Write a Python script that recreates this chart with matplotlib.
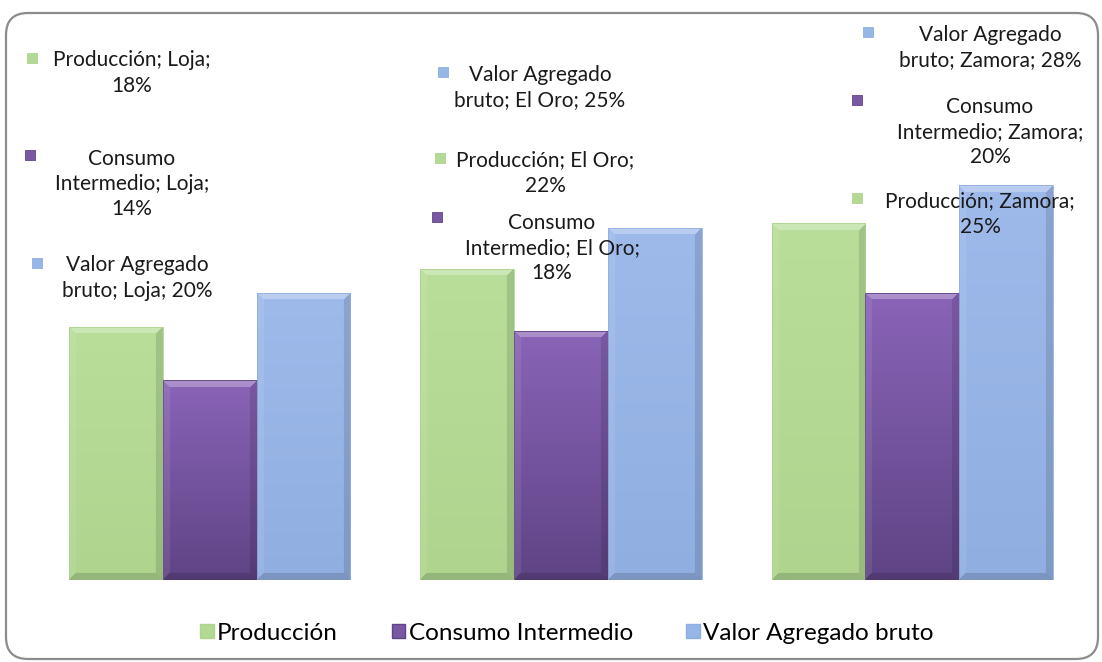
import numpy as np
import matplotlib
matplotlib.use("Agg")
import matplotlib.pyplot as plt
from matplotlib.patches import Rectangle, FancyBboxPatch, Patch
from matplotlib.transforms import IdentityTransform

# data
regions = ["Loja", "El Oro", "Zamora"]
series = ["Producción", "Consumo Intermedio", "Valor Agregado bruto"]
produccion = [17.9, 22.0, 25.2]
consumo = [14.1, 17.6, 20.3]
valor_agregado = [20.3, 24.9, 27.9]
values = [produccion, consumo, valor_agregado]

# label texts (Excel style "series; category; value")
label_texts = {
    (0, 0): "Producción; Loja;\n18%",
    (1, 0): "Consumo\nIntermedio; Loja;\n14%",
    (2, 0): "Valor Agregado\nbruto; Loja; 20%",
    (0, 1): "Producción; El Oro;\n22%",
    (1, 1): "Consumo\nIntermedio; El Oro;\n18%",
    (2, 1): "Valor Agregado\nbruto; El Oro; 25%",
    (0, 2): "Producción; Zamora;\n25%",
    (1, 2): "Consumo\nIntermedio; Zamora;\n20%",
    (2, 2): "Valor Agregado\nbruto; Zamora; 28%",
}
# label layout in pixels from top-left: (text center x, first line y, marker x, marker y)
label_pos = {
    (0, 0): (132, 59, 32, 58),
    (1, 0): (132, 156, 30, 155),
    (2, 0): (137, 264, 37, 263),
    (0, 1): (545, 159, 440, 158),
    (1, 1): (552, 220, 437, 217),
    (2, 1): (540, 74, 443, 72),
    (0, 2): (980, 200, 857, 198),
    (1, 2): (990, 104, 857, 100),
    (2, 2): (990, 34, 868, 32),
}
line_h = 28

top_cols = ["#B8DE9A", "#8A64B8", "#9EBAEB"]
bot_cols = ["#AED48E", "#5F4485", "#90AEE0"]
mid_cols = ["#B3D994", "#7858A2", "#97B6E8"]

W, H = 1102, 662
plt.rcParams['font.family'] = ['Lato', 'DejaVu Sans']

fig = plt.figure(figsize=(W / 100, H / 100), dpi=100)
ax = fig.add_axes([34 / W, 1 - 580 / H, (1088 - 34) / W, (580 - 155.5) / H])
ax.set_xlim(-0.5, 2.5)
ax.set_ylim(0, 30)
ax.axis("off")

# outer rounded frame
frame = FancyBboxPatch((6, 3), W - 10, H - 16, boxstyle="round,pad=0,rounding_size=22",
                       transform=IdentityTransform(), facecolor="none",
                       edgecolor="#8C8C8C", linewidth=1.6)
fig.add_artist(frame)


def to_rgb(c):
    return np.array(matplotlib.colors.to_rgb(c))


def shade_bar(ax, rect, ctop, cbot, px_per_unit_x, px_per_unit_y):
    x, y = rect.get_xy()
    w, h = rect.get_width(), rect.get_height()
    cols = max(int(w * px_per_unit_x), 2)
    rows = max(int(h * px_per_unit_y), 2)
    t = np.linspace(0, 1, rows)[:, None, None]
    img = (1 - t) * to_rgb(ctop) + t * to_rgb(cbot)
    img = np.repeat(img, cols, axis=1)
    bev = 7
    yy, xx = np.mgrid[0:rows, 0:cols]
    dt, db, dl, dr = yy, rows - 1 - yy, xx, cols - 1 - xx
    dmin = np.minimum(np.minimum(dt, db), np.minimum(dl, dr))
    inside = dmin < bev
    top = inside & (dt == dmin)
    bot = inside & (db == dmin) & ~top
    left = inside & (dl == dmin) & ~top & ~bot
    right = inside & (dr == dmin) & ~top & ~bot & ~left
    img[top] = img[top] + (1 - img[top]) * 0.28
    img[left] = img[left] + (1 - img[left]) * 0.08
    img[right] = img[right] * 0.88
    img[bot] = img[bot] * 0.86
    im = ax.imshow(img, extent=(x, x + w, y, y + h), aspect="auto",
                   origin="upper", zorder=2, interpolation="bilinear")
    im.set_clip_path(rect)


width = 0.267
ppx = (1088 - 34) / 3.0
ppy = (580 - 155.5) / 30.0
for j in range(3):
    xs = np.arange(3) + (j - 1) * width
    bars = ax.bar(xs, values[j], width, color=mid_cols[j], edgecolor="none", zorder=1)
    for b in bars:
        shade_bar(ax, b, top_cols[j], bot_cols[j], ppx, ppy)
        ax.add_patch(Rectangle(b.get_xy(), b.get_width(), b.get_height(), fill=False,
                               edgecolor=bot_cols[j], linewidth=0.6, zorder=3))

# data labels
for (j, i), txt in label_texts.items():
    tx, ty, mx, my = label_pos[(j, i)]
    n = txt.count("\n")
    cy = ty + n * line_h / 2
    fig.text(tx / W, 1 - cy / H, txt, ha="center", va="center", fontsize=15,
             color="#1A1A1A", linespacing=1.32)
    fig.add_artist(Rectangle((mx - 5, H - my - 5), 10, 10, transform=IdentityTransform(),
                             facecolor=mid_cols[j], edgecolor=bot_cols[j], linewidth=0.6))

handles = [Patch(facecolor=mid_cols[j], edgecolor=bot_cols[j], label=series[j]) for j in range(3)]
fig.legend(handles=handles, loc="center", bbox_to_anchor=(567 / W, 1 - 633 / H), ncol=3,
           frameon=False, fontsize=17.5, handlelength=0.55, handleheight=0.55,
           handletextpad=0.15, columnspacing=2.2)

fig.savefig("out.png", dpi=100)
